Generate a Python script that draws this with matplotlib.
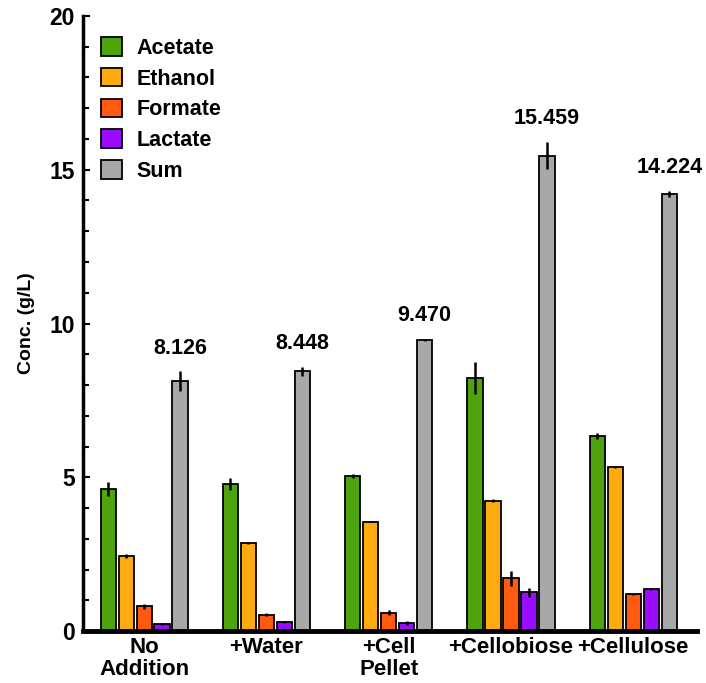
import matplotlib
matplotlib.use("Agg")
import matplotlib.pyplot as plt
import numpy as np
from matplotlib.ticker import MultipleLocator

plt.rcParams['font.family'] = ['Liberation Sans', 'DejaVu Sans']
plt.rcParams['font.weight'] = 'bold'

categories = ["No\nAddition", "+Water", "+Cell\nPellet", "+Cellobiose", "+Cellulose"]
series = ["Acetate", "Ethanol", "Formate", "Lactate", "Sum"]
colors = ["#4fa40e", "#ffaa0f", "#ff5a0f", "#9a0cff", "#a8a8a8"]

acetate = [4.61, 4.78, 5.03, 8.24, 6.34]
ethanol = [2.43, 2.86, 3.56, 4.24, 5.33]
formate = [0.81, 0.53, 0.59, 1.71, 1.19]
lactate = [0.24, 0.28, 0.26, 1.26, 1.36]
total = [8.126, 8.448, 9.470, 15.459, 14.224]

acetate_err = [0.22, 0.18, 0.06, 0.52, 0.10]
ethanol_err = [0.06, 0.04, 0.03, 0.06, 0.03]
formate_err = [0.08, 0.04, 0.08, 0.25, 0.03]
lactate_err = [0.03, 0.03, 0.05, 0.14, 0.04]
total_err = [0.32, 0.15, 0.03, 0.45, 0.10]

values = [acetate, ethanol, formate, lactate, total]
errors = [acetate_err, ethanol_err, formate_err, lactate_err, total_err]

fig = plt.figure(figsize=(7.06, 6.83), dpi=100)
ax = fig.add_axes([0.1176, 0.0761, 0.8694, 0.9005])

x = np.arange(1, len(categories) + 1)
pitch = 0.147
width = 0.125
for i, (name, vals, errs, c) in enumerate(zip(series, values, errors, colors)):
    pos = x + (i - 2) * pitch
    ax.bar(pos, vals, width=width, color=c, edgecolor='black', linewidth=1.3,
           label=name, zorder=2)
    ax.errorbar(pos, vals, yerr=errs, fmt='none', ecolor='black',
                elinewidth=1.8, capsize=0, zorder=3)

for xi, v, e in zip(x + 2 * pitch, total, total_err):
    ax.text(xi, v + e + 0.75, f"{v:.3f}", ha='center', va='center',
            fontsize=15.5, fontweight='bold')

ax.set_xlim(0.5, 5.52)
ax.set_ylim(0, 20)
ax.set_xticks(x)
ax.set_xticklabels(categories, fontsize=16, fontweight='bold', linespacing=1.08)
ax.tick_params(axis='x', length=0, pad=4)
ax.yaxis.set_major_locator(MultipleLocator(5))
ax.yaxis.set_minor_locator(MultipleLocator(1))
ax.tick_params(axis='y', which='major', direction='in', length=5, width=1.5,
               labelsize=16.5, pad=6)
ax.tick_params(axis='y', which='minor', direction='in', length=4, width=1.5)
for lab in ax.get_yticklabels():
    lab.set_fontweight('bold')

ax.spines['top'].set_visible(False)
ax.spines['right'].set_visible(False)
ax.spines['left'].set_linewidth(2.5)
ax.spines['bottom'].set_linewidth(3.5)

ax.set_ylabel("Conc. (g/L)", fontsize=14, fontweight='bold', labelpad=10)

leg = ax.legend(loc='upper left', bbox_to_anchor=(0.005, 0.99), frameon=False,
                fontsize=15.5, handlelength=0.95, handleheight=0.95,
                handletextpad=0.7, labelspacing=0.42, borderpad=0.2)
for t in leg.get_texts():
    t.set_fontweight('bold')

fig.savefig("out.png", dpi=100)
